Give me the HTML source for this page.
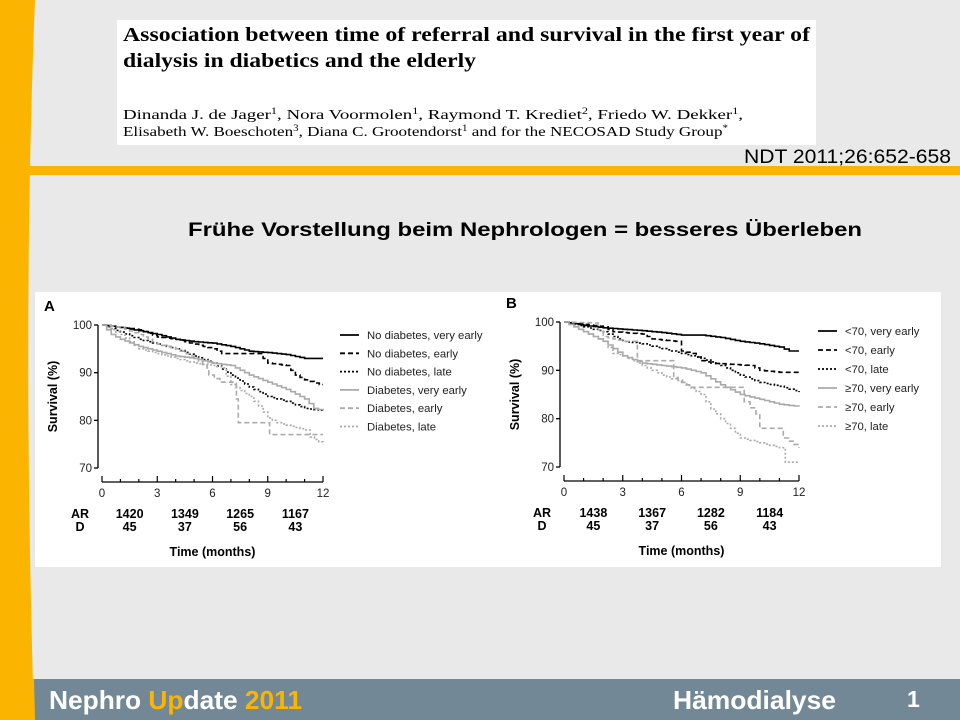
<!DOCTYPE html>
<html><head><meta charset="utf-8"><style>
html,body{margin:0;padding:0;background:#e9e9e9}
svg{display:block}
text{font-family:"Liberation Sans",Arial,sans-serif}
.serif{font-family:"Liberation Serif","Times New Roman",serif}
</style></head><body>
<svg id="s" width="960" height="720" viewBox="0 0 960 720" xmlns="http://www.w3.org/2000/svg">
<rect width="960" height="720" fill="#e9e9e9"/>
<path d="M0 0 L35 0 Q22 320 34 720 L0 720Z" fill="#fbb400"/>
<rect x="26" y="166" width="934" height="9" fill="#fbb400"/>
<rect x="117" y="20" width="699" height="125" fill="#fff"/>
<text class="serif" x="123" y="41" font-size="20" font-weight="bold" textLength="687" lengthAdjust="spacingAndGlyphs">Association between time of referral and survival in the first year of</text>
<text class="serif" x="123" y="67" font-size="20" font-weight="bold" textLength="353" lengthAdjust="spacingAndGlyphs">dialysis in diabetics and the elderly</text>
<text class="serif" x="123" y="119" font-size="14" textLength="620" lengthAdjust="spacingAndGlyphs">Dinanda J. de Jager<tspan font-size="9" dy="-5">1</tspan><tspan dy="5">, Nora Voormolen</tspan><tspan font-size="9" dy="-5">1</tspan><tspan dy="5">, Raymond T. Krediet</tspan><tspan font-size="9" dy="-5">2</tspan><tspan dy="5">, Friedo W. Dekker</tspan><tspan font-size="9" dy="-5">1</tspan><tspan dy="5">,</tspan></text>
<text class="serif" x="123" y="136" font-size="14" textLength="605" lengthAdjust="spacingAndGlyphs">Elisabeth W. Boeschoten<tspan font-size="9" dy="-5">3</tspan><tspan dy="5">, Diana C. Grootendorst</tspan><tspan font-size="9" dy="-5">1</tspan><tspan dy="5"> and for the NECOSAD Study Group</tspan><tspan font-size="9" dy="-5">*</tspan></text>
<text x="951" y="163" font-size="19" text-anchor="end" textLength="207" lengthAdjust="spacingAndGlyphs">NDT 2011;26:652-658</text>
<text x="525" y="236" font-size="19" font-weight="bold" text-anchor="middle" textLength="674" lengthAdjust="spacingAndGlyphs">Frühe Vorstellung beim Nephrologen = besseres Überleben</text>
<rect x="35" y="292" width="906" height="275" fill="#fff"/>
<g id="charts"></g>
<rect x="0" y="679" width="960" height="41" fill="#738896"/>
<path d="M0 679 L34 679 L35 720 L0 720Z" fill="#fbb400"/>
<text x="49" y="709" font-size="26" font-weight="bold" fill="#fff" textLength="253" lengthAdjust="spacingAndGlyphs">Nephro <tspan fill="#fbb400">Up</tspan>date <tspan fill="#fbb400">2011</tspan></text>
<text x="673" y="709" font-size="26" font-weight="bold" fill="#fff" textLength="163" lengthAdjust="spacingAndGlyphs">Hämodialyse</text>
<text x="907" y="707" font-size="23" font-weight="bold" fill="#fff">1</text>
</svg>
<script>
var NS="http://www.w3.org/2000/svg",g=document.getElementById("charts");
function el(t,a,txt){var e=document.createElementNS(NS,t);for(var k in a)e.setAttribute(k,a[k]);if(txt!=null)e.textContent=txt;g.appendChild(e);return e;}
var styles=[{c:"#000",d:""},{c:"#000",d:"5,3"},{c:"#000",d:"2,2"},{c:"#aaa",d:""},{c:"#aaa",d:"5,3"},{c:"#aaa",d:"2,2"}];
function chart(o){
 var X=function(m){return o.x0+(o.x1-o.x0)*m/12},Y=function(v){return o.y100+(o.y70-o.y100)*(100-v)/30};
 el("text",{x:o.x0-58,y:o.y100-14,"font-size":15,"font-weight":"bold"},o.lab);
 el("path",{d:"M"+(o.x0-4)+" "+o.y100+" V"+o.y70,stroke:"#000","stroke-width":1.3,fill:"none"});
 [100,90,80,70].forEach(function(v){el("path",{d:"M"+(o.x0-8)+" "+Y(v)+" H"+(o.x0-4),stroke:"#000","stroke-width":1.3});
  el("text",{x:o.x0-10,y:Y(v)+4,"font-size":11.5,"text-anchor":"end",fill:"#222"},v);});
 var ay=o.y70+14;
 el("path",{d:"M"+o.x0+" "+ay+" H"+o.x1,stroke:"#000","stroke-width":1.3});
 for(var m=0;m<=12;m++){el("path",{d:"M"+X(m)+" "+(ay-(m%3?3:6))+" V"+ay,stroke:"#000","stroke-width":1.2});}
 [0,3,6,9,12].forEach(function(m){el("text",{x:X(m),y:ay+15,"font-size":11.5,"text-anchor":"middle",fill:"#222"},m);});
 el("text",{x:o.x0-22,y:ay+36,"font-size":12.5,"font-weight":"bold","text-anchor":"middle"},"AR");
 el("text",{x:o.x0-22,y:ay+49,"font-size":12.5,"font-weight":"bold","text-anchor":"middle"},"D");
 o.ar.forEach(function(a,i){var xx=X(i*3+1.5);el("text",{x:xx,y:ay+36,"font-size":12.5,"font-weight":"bold","text-anchor":"middle"},a[0]);el("text",{x:xx,y:ay+49,"font-size":12.5,"font-weight":"bold","text-anchor":"middle"},a[1]);});
 el("text",{x:(o.x0+o.x1)/2,y:ay+74,"font-size":12.5,"font-weight":"bold","text-anchor":"middle"},"Time (months)");
 el("text",{x:0,y:0,"font-size":12.5,"font-weight":"bold","text-anchor":"middle",transform:"translate("+(o.x0-45)+","+Y(85)+") rotate(-90)"},"Survival (%)");
 o.series.forEach(function(p,i){
  var d="M"+X(p[0])+" "+Y(p[1]);
  for(var j=2;j<p.length;j+=2){var m0=p[j-2],v0=p[j-1],m1=p[j],v1=p[j+1];
   var n=Math.max(1,Math.round((m1-m0)*4));
   if(Math.abs(v1-v0)>2.5&&m1-m0<0.3)n=1;
   for(var k=1;k<=n;k++){var mm=m0+(m1-m0)*k/n,vv=v0+(v1-v0)*k/n;d+=" H"+X(mm).toFixed(1)+" V"+Y(vv).toFixed(1);}}
  el("path",{d:d,fill:"none",stroke:styles[i].c,"stroke-width":1.6,"stroke-dasharray":styles[i].d});
  var ly=o.ly0+i*o.ldy;
  el("path",{d:"M"+o.lx+" "+ly+" h19",stroke:styles[i].c,"stroke-width":1.8,"stroke-dasharray":styles[i].d});
  el("text",{x:o.lx+27,y:ly+4,"font-size":11.3,fill:"#222"},o.names[i]);});
}
chart({lab:"A",x0:102,x1:323,y100:325,y70:468,lx:340,ly0:335,ldy:18.3,
 ar:[[1420,45],[1349,37],[1265,56],[1167,43]],
 names:["No diabetes, very early","No diabetes, early","No diabetes, late","Diabetes, very early","Diabetes, early","Diabetes, late"],
 series:[
 [0,100,1,99.5,2,98.8,3,98,4,97,5,96.5,6,96.2,7,95.5,8,94.5,9,94.2,10,93.8,11,93,12,93],
 [0,100,2,99,3,97.5,4,97,5,96,6,95,6.5,94,8.5,94,9,92,10,91.5,10.5,89.5,11,88.5,11.8,87.5,12,87.5],
 [0,100,1,98.5,2,97,3,96,4,95,5,93.5,6,92,7,89.5,8,87,9,85,10,84,11,82.5,12,82],
 [0,100,0.5,98,1,97,2,95.5,3,94.5,4,93.5,5,93,5.5,92.5,6,92,7,91.5,8,89.5,9,88,10,86.5,11,84.5,11.5,82.5,12,82],
 [0,100,1,99.5,2,98,3,96,4,95,5,93,5.7,91,5.8,89.5,6.4,88,7,88,7.3,84.5,7.4,79.5,9,79.5,9.1,77,12,77],
 [0,100,1,98,2,95,3,94,4,93,5,92,6,91.5,6.5,91,7,87.5,8,85,8.5,83,9,80.5,9.5,79.5,10,79,11,78,11.3,76.5,12,75]]});
chart({lab:"B",x0:564,x1:799,y100:322,y70:467,lx:818,ly0:331,ldy:19,
 ar:[[1438,45],[1367,37],[1282,56],[1184,43]],
 names:["<70, very early","<70, early","<70, late","\u226570, very early","\u226570, early","\u226570, late"],
 series:[
 [0,100,1,99.3,2,98.8,3,98.5,4,98.2,5,97.8,6,97.3,7,97.3,8,96.8,9,96,10,95.5,11,94.8,11.5,94,12,94],
 [0,100,2,99,2.5,98,4,97.5,4.5,96.5,5.7,96,6,94,6.5,93.5,7,92,7.5,91.5,9.5,91,10,90,11,89.6,12,89.6],
 [0,100,1,99,2,98,3,96,4,95.5,5,94.5,6,93.5,7,92.5,8,91,9,89,10,87.5,11,86.7,12,85.5],
 [0,100,1,98,2,96,3,93,4,91.5,5,91,6,90.5,7,89.5,8,87,9,85,10,84,11,83,12,82.5],
 [0,100,1.5,99.8,2,97,3,96,3.7,96,3.75,92,5.5,92,5.6,88.5,6.5,86.5,9,86.5,9.2,83.5,9.8,81,10,78,11,78,11.2,76,12,74],
 [0,100,1,98,2,96,2.5,93.5,3,93,4,91,5,89,6,87.5,7,85,7.5,82,8,80,8.5,78,9,76,10,75,11,74,11.3,71,12,71]]});
</script>
</body></html>
